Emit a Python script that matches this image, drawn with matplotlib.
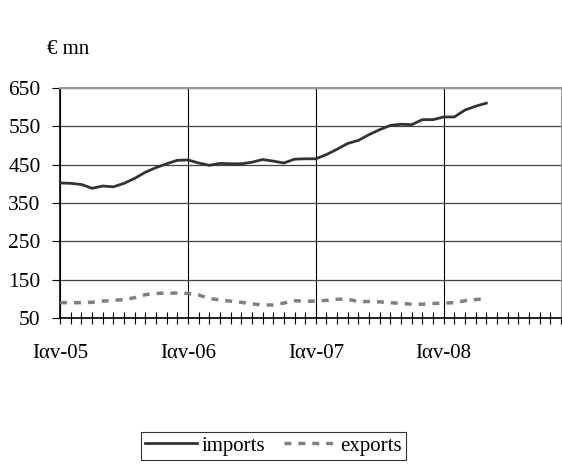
import numpy as np
import matplotlib
matplotlib.use("Agg")
import matplotlib.pyplot as plt

plt.rcParams['font.family'] = ['Liberation Serif', 'DejaVu Serif']

# monthly values, Jan-05 onwards
imports = [402, 401, 398, 388, 394, 392, 401, 414, 430, 442, 452, 461,
           462, 454, 448, 453, 452, 452, 456, 463, 459, 454, 464, 465,
           465, 476, 490, 505, 513, 528, 541, 552, 555, 554, 567, 567,
           574, 574, 592, 602, 610]
exports = [90, 90, 90, 91, 94, 96, 98, 103, 111, 114, 115, 115,
           114, 110, 101, 97, 94, 91, 87, 84, 84, 89, 95, 94,
           94, 96, 99, 99, 93, 93, 92, 90, 88, 86, 86, 88,
           89, 90, 95, 98, 101]
year_labels = ['Iαv-05', 'Iαv-06', 'Iαv-07', 'Iαv-08']
yticks = [50, 150, 250, 350, 450, 550, 650]

fig = plt.figure(figsize=(5.62, 4.67), dpi=100)
ax = fig.add_axes([0.107, 0.319, 0.891, 0.493])

months = np.arange(len(imports))
ax.plot(months, imports, color='#333333', lw=2, label='imports', zorder=3)
ax.plot(months, exports, color='#808080', lw=2.5, ls=(0, (2, 2)),
        label='exports', zorder=3)

ax.set_xlim(0, 47)
ax.set_ylim(50, 650)
ax.set_yticks(yticks)
ax.set_xticks([0, 12, 24, 36])
ax.set_xticklabels(year_labels)
ax.set_xticks(np.arange(0, 48), minor=True)
ax.tick_params(axis='x', which='both', direction='inout', length=8,
               width=0.8, pad=15, labelsize=15)
ax.tick_params(axis='y', direction='out', length=6, labelsize=15.5, pad=8)

ax.grid(axis='y', color='#444444', lw=0.9)
ax.grid(axis='x', which='major', color='black', lw=0.8)
ax.set_axisbelow(True)

ax.spines['left'].set_linewidth(1.2)
ax.spines['bottom'].set_linewidth(1.2)
ax.spines['top'].set_color('#999999')
ax.spines['top'].set_linewidth(1.5)
ax.spines['right'].set_color('#999999')

fig.text(0.084, 0.885, '€ mn', fontsize=15)

leg = fig.legend(loc='center', bbox_to_anchor=(0.486, 0.045), ncol=2,
                 fontsize=15, frameon=True, fancybox=False,
                 handlelength=2.5, handletextpad=0.2, columnspacing=0.9,
                 borderpad=0.2)
leg.get_frame().set_edgecolor('black')
leg.get_frame().set_linewidth(0.8)

fig.savefig('out.png', dpi=100)
